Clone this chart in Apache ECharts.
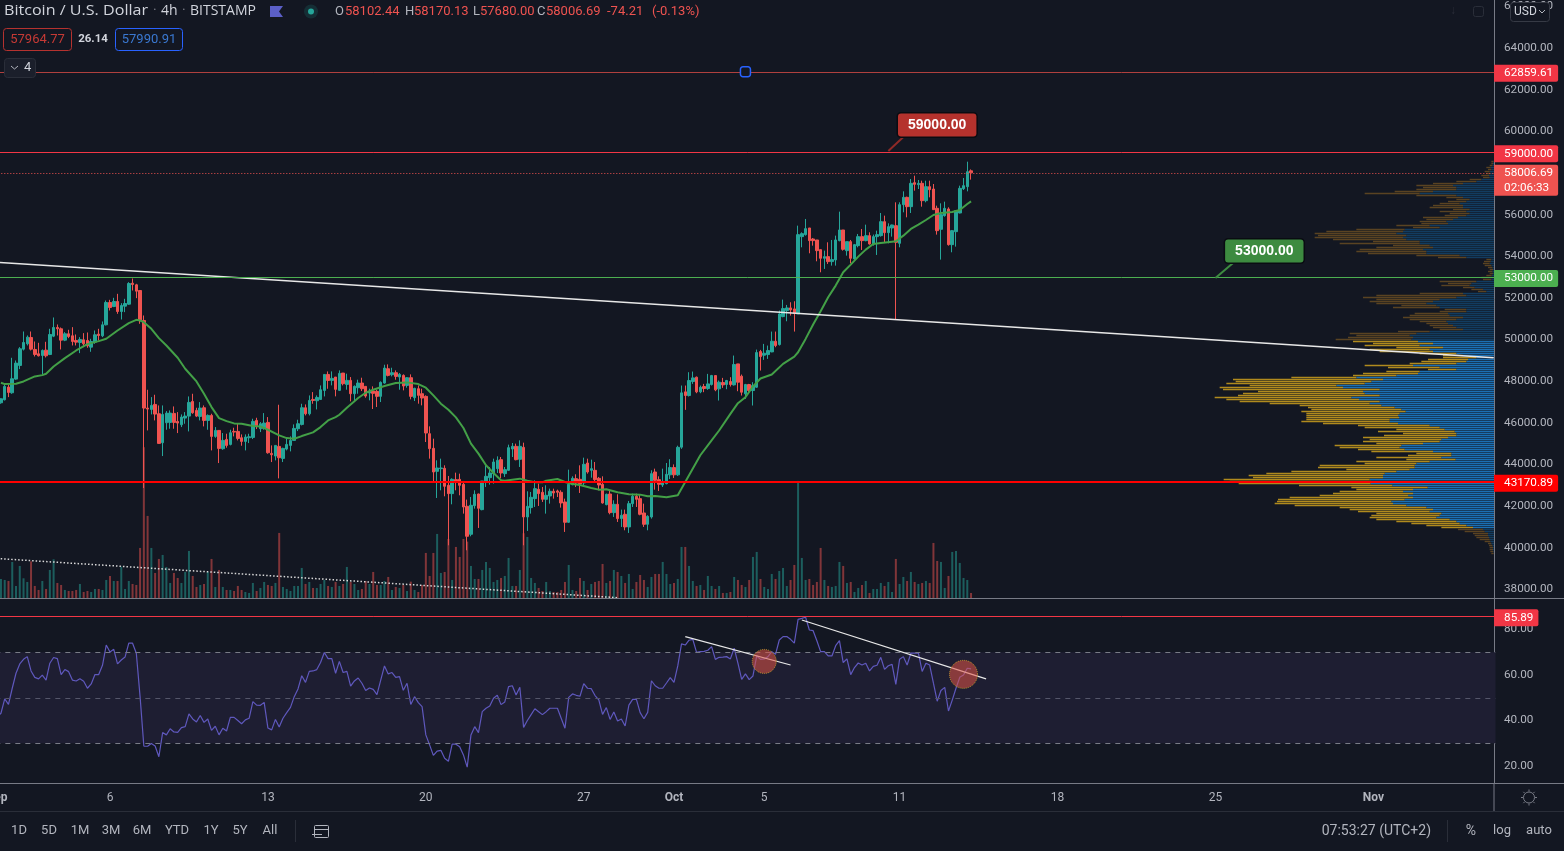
<!DOCTYPE html>
<html><head><meta charset="utf-8"><style>html,body{margin:0;padding:0;background:#131722;overflow:hidden}#c{width:1564px;height:851px}</style>
<script src="https://cdn.jsdelivr.net/npm/echarts@6/dist/echarts.min.js"></script></head><body><div id="c"></div><script>
const tickBars=[0,30,72,114,156,180,204,240,282,324,366];
const tickLabels=['Sep','6','13','20','27','Oct','5','11','18','25','Nov'];
const priceTicks=[38000,40000,42000,44000,46000,48000,50000,52000,54000,56000,60000,62000,64000,66000];
const rsiTicks=[20,40,60,80];
const opens=[46880,46962,47106,47714,47442,48098,48754,49538,49794,50098,
49522,49314,49234,49490,49282,50162,50578,50514,49970,50274,
50178,49954,49858,49986,49954,49634,49874,50258,50178,50706,
51778,51586,51826,51346,51602,51698,52706,52626,52354,50914,
46706,46642,46882,46434,45042,46002,46018,46450,46066,45906,
46226,46322,47026,46594,46306,46722,46114,46354,45346,45634,
44754,45202,44962,45586,45586,45282,45106,45282,45298,46114,
45714,45730,46018,44530,44402,44866,44290,44738,44914,45154,
45714,45922,46722,46434,47122,47058,47122,47554,48322,48037,
48197,47557,48389,47845,48037,47397,47685,47909,47749,47429,
47525,47509,47269,47909,48597,48309,48405,48197,48277,47797,
48165,47205,47637,47397,47269,45477,44773,43669,43797,43813,
42997,42597,43269,43285,43045,41989,40645,42021,42581,41829,
43157,43365,43557,43797,44229,43557,43717,44741,44869,44245,
44821,41477,41925,42357,42805,42661,42325,42485,42709,42725,
42661,42197,41221,43029,43317,43285,43109,44069,43717,43717,
43333,43045,42069,42581,41685,42085,41397,41605,40997,42117,
42469,42357,41669,41125,41477,43637,43269,43013,43077,43500,
43850,43500,44829,47485,47309,47981,48189,47485,47741,47645,
47837,48269,47629,47933,47837,47981,47821,48829,48237,47389,
47837,47549,47709,49421,49245,49277,49405,49917,49757,51101,
51389,51517,51469,51229,54941,55037,55357,54829,54781,54317,
53901,53981,53741,53821,54749,55261,54269,54701,53869,54509,
54941,54749,54989,54589,54941,54989,55661,55133,55357,55469,
54621,56477,56829,56381,57533,57437,57501,56669,57341,57229,
56301,55293,55949,56269,54557,55181,56077,57245,57341,58102.44];
const closes=[46960,47154,47746,47458,48114,48866,49554,49858,50114,49538,
49282,49218,49474,49218,50242,50578,50514,49970,50274,50146,
49906,49874,50002,49794,49698,49906,50226,50194,50706,51778,
51538,51826,51346,51634,51730,52690,52642,52322,50914,46706,
46658,46834,46418,45010,46402,46466,46466,46018,45986,46274,
46322,46978,46482,46322,46706,46114,46354,45346,45634,44770,
45154,44914,45522,45554,45250,45106,45314,45330,46066,45858,
45954,45986,44562,44466,44914,44322,44770,44962,45154,45730,
45954,46722,46434,47074,47074,47218,47586,48322,48034,48133,
47605,48373,47877,48037,47397,47749,47909,47637,47285,47509,
47413,47269,47941,48629,48277,48405,48229,48325,47765,48165,
47269,47653,47317,47189,45509,44757,43637,43829,43829,42949,
42597,43285,43205,42997,41957,40549,42037,42565,41893,43205,
43429,43589,44117,44197,43589,43749,44805,44869,44229,44869,
41477,41989,42421,42837,42597,42325,42517,42709,42629,42661,
42149,41221,43045,43333,43109,43077,44005,43637,43797,43269,
43013,42149,42565,41685,42085,41397,41557,40997,42117,42469,
42325,41605,41125,41509,43557,43237,43045,43157,43525,43850,
43500,44820,47437,47309,48029,48157,47485,47709,47645,47869,
48269,47581,47949,47821,48029,47837,48797,47949,47469,47837,
47549,47789,49373,49181,49341,49469,49917,49709,51229,51485,
51517,51421,51261,55037,55085,55325,54749,54749,54269,53901,
53981,53741,53837,54781,55261,54333,54701,53901,54557,54941,
54749,54989,54589,54941,55037,55661,55133,55421,55501,54669,
56477,56829,56381,57501,57453,57501,56669,57341,57197,56237,
55229,55997,56301,54557,55229,56189,57261,57389,58061,58006.69];
const lows=[46800,46914,47074,47234,47394,48066,48578,49474,49714,49474,
49186,49186,48322,49138,49250,50114,50194,49522,49922,50066,
49714,49714,49346,49634,49602,49410,49794,49954,50114,50674,
51394,51554,51234,50962,51314,51666,52354,51986,50754,42866,
45634,46402,46114,44994,44402,45666,45714,45714,45506,45794,
45954,45586,46434,46274,46114,45826,45666,44674,45282,44066,
44706,44802,44914,45346,45154,44898,44674,45026,45218,45698,
45554,45666,44514,44114,44194,43330,44114,44674,44626,45154,
45602,45874,46354,46354,46914,46642,47106,47266,47634,47797,
47269,47525,47797,47589,47029,46997,47397,47525,47205,47077,
46661,46757,46997,47877,48229,48229,48069,47589,47557,47685,
47125,47045,46917,46837,45077,44277,43157,42389,42757,42469,
40117,42085,42757,42517,41637,39877,40549,41877,40949,41797,
42917,43029,43077,43589,43349,43397,43685,44357,44197,43877,
40117,40805,41637,41957,42005,42197,41637,42117,42357,42437,
41925,40757,41189,42997,42917,42629,42917,43557,43365,43205,
42757,42117,42037,41605,41477,41237,40997,40837,40709,41957,
41957,41557,40997,40837,41397,42789,42725,42917,43045,43300,
43350,43450,44749,46621,47261,47869,47421,47421,47469,47581,
47789,47517,47069,47677,47613,47741,47789,47517,47309,47149,
47389,46829,47677,48509,49021,49069,49389,49629,49709,51069,
50877,51149,50381,51229,54429,54989,54141,54509,53757,53229,
53389,53629,53549,53549,54717,54269,54029,53661,53789,54429,
54301,54717,54557,54509,54061,54941,54669,54621,54941,50957,
54429,56109,55869,56077,57149,57229,56381,56589,56829,56221,
55037,53837,55901,54509,54189,54461,56061,57181,57117,57680];
const highs=[47100,47170,47874,47826,49122,48994,49634,50386,50194,50386,
49906,49842,49522,49890,50514,51058,50722,50578,50354,50466,
50594,50242,50114,50306,50338,50034,50434,50514,50866,51874,
51906,52002,52194,51746,51954,52754,52930,52674,52354,51154,
47586,47234,47346,46834,46834,46562,46594,46786,46514,46402,
46514,47266,47394,46722,46994,46834,46402,46434,45794,45634,
45506,45474,45666,45762,45954,45442,45442,45474,46194,46242,
46034,46466,46274,44914,44914,46866,44802,45234,45346,45922,
46146,46914,46882,47314,47474,47314,47794,48322,48466,48469,
48197,48517,48389,48357,48197,47797,48069,48165,47749,47637,
47749,47589,47989,48789,48805,48645,48517,48389,48325,48197,
48325,47685,47797,47637,47317,45829,45237,44197,44277,43957,
43445,43333,43605,43557,43205,42309,42437,42757,42597,43205,
43957,43877,44277,44389,44357,43877,44949,45029,44997,45157,
45045,42709,42677,43237,43077,42917,42997,42837,42837,42789,
42757,42357,43749,43429,43525,43957,44325,44277,44229,44117,
43397,43429,42597,42757,42277,42565,41829,41829,42245,42597,
42597,42565,42117,41557,43717,43797,43429,43797,44069,44250,
44000,44900,47789,47789,48429,48461,48221,47789,47869,48349,
48301,48269,48029,48157,48061,48189,49229,48829,48317,47869,
47869,47949,49517,49501,49789,49709,50381,50381,51389,51917,
51661,51789,51837,55469,55149,55789,55357,54877,54781,54317,
54269,54669,54781,54989,56141,55261,54701,54781,54589,55069,
55309,55517,55149,55037,55229,56077,55949,55581,55517,56589,
56589,57117,56861,57709,57869,57661,57629,57629,57629,57469,
56429,56541,56621,56349,55261,56221,57389,57757,58541,58170.13];
const volumes=[50,58,55,52,109,37,97,60,49,111,
37,25,52,28,85,117,46,40,25,22,
22,25,43,19,22,19,28,28,25,55,
67,52,52,95,28,52,43,40,151,453,
247,151,76,118,130,94,46,76,61,46,
79,142,67,34,40,43,79,118,34,85,
34,25,25,22,37,25,19,16,46,22,
31,49,40,37,46,196,34,28,22,37,
37,91,43,49,31,31,43,55,37,34,
49,37,43,94,49,43,25,28,52,43,
79,40,40,52,64,25,34,31,40,22,
50,25,19,40,136,67,136,193,76,79,
178,55,154,124,178,170,97,58,58,85,
109,91,49,55,61,67,121,37,37,85,
195,184,61,46,31,22,49,22,19,19,
25,49,100,25,22,61,52,25,43,49,
52,103,46,52,85,79,67,46,73,28,
49,70,55,34,64,73,73,109,73,43,
46,58,154,154,97,52,37,40,25,67,
37,28,37,16,16,19,64,55,40,34,
55,124,139,58,34,28,73,58,82,91,
37,55,100,352,121,55,58,40,49,151,
55,37,34,37,109,97,46,49,19,31,
40,52,16,28,28,46,37,49,19,118,
43,64,52,79,49,43,46,52,46,166,
112,109,31,67,139,142,106,61,55,16];
const rsiValues=[41.7,43.2,49.5,47.1,54.2,60.8,64.9,66.9,68.1,61.8,
59.0,58.3,60.0,57.8,65.2,67.7,67.2,60.2,62.4,61.5,
57.8,57.4,58.4,57.3,54.2,56.1,60.2,60.2,64.3,73.2,
70.1,71.3,64.9,66.6,67.9,74.0,74.0,69.6,50.5,28.8,
28.7,29.9,28.8,24.1,34.7,33.7,36.4,35.0,34.8,36.9,
37.3,42.9,40.7,39.4,42.2,39.2,40.7,35.7,37.5,33.7,
36.6,35.4,41.4,41.4,40.0,38.6,40.3,41.0,48.3,46.8,
46.7,48.0,36.7,35.9,40.5,37.2,41.0,43.5,45.8,50.5,
53.9,59.7,56.8,61.6,61.8,62.4,65.5,69.9,67.2,67.2,
60.8,66.0,61.1,61.6,55.1,57.4,58.7,56.4,53.2,54.3,
53.7,51.4,57.8,64.0,60.5,61.1,59.0,59.3,53.3,56.4,
47.1,50.5,47.9,46.1,33.7,29.3,24.7,26.6,26.9,23.4,
22.1,29.6,29.6,28.5,24.9,19.5,33.7,37.3,34.7,43.9,
45.4,46.4,49.8,51.1,47.0,48.2,54.9,55.3,51.2,54.6,
37.0,40.0,42.6,45.2,43.9,42.6,43.9,45.4,45.4,45.4,
41.0,36.6,50.2,51.7,51.1,50.7,56.2,54.2,54.0,51.0,
49.1,42.7,45.7,40.5,43.8,39.8,40.7,37.6,46.8,49.3,
49.3,43.5,40.8,43.6,57.5,55.3,54.2,54.2,56.5,58.9,
56.8,64.0,73.7,73.2,75.3,75.7,70.0,70.3,70.4,70.9,
72.5,66.9,67.8,67.9,68.1,67.1,71.8,65.2,58.1,60.5,
58.0,59.6,68.4,66.9,67.1,68.1,70.3,69.1,75.4,76.9,
76.9,75.7,74.0,84.5,84.9,85.4,79.8,79.5,75.1,70.3,
70.3,68.4,68.4,72.9,75.1,65.5,67.1,60.2,63.3,65.3,
64.4,65.2,61.8,63.8,64.3,67.8,62.5,64.1,64.7,55.9,
66.9,68.1,64.4,69.6,69.7,69.6,61.6,65.2,64.4,56.4,
48.5,53.2,54.6,44.2,49.0,54.2,59.0,60.0,63.0,62.7];
const maBars=[1,2,5,7,10,12,13,15,18,21,24,27,29,32,35,37,38,39,41,43,45,48,50,53,55,57,59,61,63,65,68,70,72,75,77,79,81,84,86,88,90,91,93,96,98,100,103,106,109,112,114,116,118,120,122,124,126,128,130,132,134,135,137,139,141,143,145,146,149,151,153,155,158,160,162,165,168,171,173,175,178,181,184,187,190,192,195,197,199,201,203,206,209,212,213,215,217,219,221,223,225,227,229,231,233,235,238,239,241,243,245,247,249,251,254,256,258,259];
const maValues=[47922,47858,47874,47986,48226,48290,48354,48706,49106,49474,49778,49922,50034,50434,50786,50946,50914,50834,50514,50066,49714,49122,48594,47986,47394,46754,46226,46082,45970,45954,45842,45826,45666,45394,45266,45234,45362,45538,45794,46114,46274,46386,46725,47189,47445,47589,47765,47909,47941,47861,47685,47317,46917,46629,46261,45749,45000,44517,43957,43589,43237,43221,43269,43317,43221,43141,43141,43221,43301,43157,43061,43013,42869,42789,42805,42661,42565,42549,42469,42485,42421,42523,43482,44441,45160,45629,46429,46941,47229,47741,48125,48317,48829,49181,49389,50029,50717,51357,52029,52589,53229,53597,53981,54317,54589,54637,54701,54717,54989,55309,55517,55741,55981,56077,56125,56221,56509,56637];
const profileUp=[2,3,5,10,8,13,11,15,13,38,53,93,123,113,113,183,223,113,93,73,83,103,93,93,73,83,73,83,108,123,143,138,193,163,268,273,293,263,273,263,223,223,193,183,213,203,203,103,83,8,10,13,8,5,3,5,3,7,13,8,53,68,73,58,33,23,93,83,113,163,183,203,173,163,83,83,138,133,93,113,143,138,123,113,93,193,233,253,243,248,
228,183,223,153,193,183,113,93,53,78,83,113,243,163,113,223,228,293,413,333,368,388,473,453,343,393,388,343,428,405,343,373,338,298,278,265,283,288,285,313,313,288,193,163,148,118,113,113,138,158,163,213,278,283,268,183,128,128,158,115,193,233,238,238,253,293,328,333,333,373,368,370,305,199,243,273,243,258,243,268,308,303,263,203,183,193,158,163,173,133,113,103,83,63,33,28,18,18,15,13,11,8,5,3,3,2,1];
const profileDown=[6,5,8,13,10,15,12,23,20,35,60,90,110,100,120,115,165,120,50,40,55,60,90,100,50,80,60,65,105,80,80,80,100,80,145,230,245,265,265,220,140,240,110,170,190,210,175,130,85,15,20,20,20,13,10,13,10,16,25,25,110,70,85,35,35,25,130,270,280,190,190,150,105,140,65,80,100,120,180,140,80,65,70,70,70,95,200,160,195,227,
195,180,165,140,180,160,110,60,100,120,135,140,145,155,85,100,165,130,195,450,407,415,260,370,470,315,365,425,410,398,420,300,245,260,270,313,280,275,278,250,265,225,215,225,145,230,160,217,255,215,230,140,200,180,140,185,105,130,195,148,220,155,285,290,190,315,355,403,390,438,425,396,280,229,170,190,240,265,370,380,343,355,335,260,250,215,195,205,200,220,180,145,120,95,75,60,45,40,38,30,17,10,10,10,10,9,7];
const rsiTrendA=[[183,76.9],[211,64.4]];
const rsiTrendB=[[214,84.2],[263,58.3]];
const rsiCircles=[[204,66.0,24],[257,60.3,28]];

const BG='#131722',UP='#26a69a',DN='#ef5350',AX='#b2b5be',LN='#787b86';
const FF='Roboto, sans-serif',FH='"Open Sans", sans-serif';
const N=399,P=3.76,GL=-4.68;
const months=['Sep','Oct','Nov'],mDays=[30,31,30];
const categories=[];
for(let k=0;k<N;k++){let d=Math.floor(k/6),m=0;while(d>=mDays[m%3]){d-=mDays[m%3];m++}
 categories.push(months[m%3]+' '+(d+1)+' '+String(k%6*4).padStart(2,'0')+':00')}
const profileLevels=profileUp.map((_,i)=>String(Math.round(58000-(i-3)*96)));
const tickMap={};tickBars.forEach((b,i)=>tickMap[b]=tickLabels[i]);
const candleData=opens.map((o,i)=>[o,closes[i],lows[i],highs[i]]);
const volData=volumes.map((v,i)=>({value:v,itemStyle:{color:closes[i]>=opens[i]?'rgba(38,166,154,.5)':'rgba(239,83,80,.5)'}}));
const maData=maBars.map((b,i)=>[b,maValues[i]]);
function bright(i){return i>=90&&i<=183}
const vpUp=profileUp.map((v,i)=>({value:v,itemStyle:{color:bright(i)?'#1a6fb3':'#123c60',opacity:1}}));
const vpDown=profileDown.map((v,i)=>({value:v,itemStyle:{color:bright(i)?'#b08a1e':'#5a4322',opacity:1}}));

function tag(color,text,extra){return Object.assign({show:true,position:'end',distance:0,offset:[-1.5,1.5],formatter:text,backgroundColor:color,color:'#fff',fontFamily:FF,fontSize:11.7,padding:[3,5,2,10],borderRadius:[0,2,2,0]},extra||{})}
function hline(v,color,width,text,type,extra){return {yAxis:v,lineStyle:{color:color,width:width,type:type||'solid'},label:text?tag(extra&&extra.bg||color,text,extra&&extra.label):{show:false}}}
const hidden={show:false};
const T=(x,y,text,fill,font,align,extra)=>Object.assign({type:'text',x:x,y:y,z:100,silent:true,style:{text:text,fill:fill,font:font||('13px '+FF),align:align||'left',verticalAlign:'middle'}},extra||{});
const R=(x,y,w,h,fill,stroke,r)=>({type:'rect',z:99,silent:true,shape:{x:x,y:y,width:w,height:h,r:r||0},style:{fill:fill||'none',stroke:stroke||'none',lineWidth:1}});
const L=(x1,y1,x2,y2,c,z)=>({type:'line',z:z||98,silent:true,shape:{x1:x1,y1:y1,x2:x2,y2:y2},style:{stroke:c,lineWidth:1}});
const gear=[];for(let a=0;a<8;a++){const t=a*Math.PI/4;gear.push(L(1529+Math.cos(t)*6,797.5+Math.sin(t)*6,1529+Math.cos(t)*8,797.5+Math.sin(t)*8,'#787b86'))}
const graphics=[
 T(4,11.5,'Bitcoin / U.S. Dollar','#d1d4dc','14px '+FH,'left',{scaleX:1.15}),T(153,11.5,'·','#787b86','14px '+FF),T(161,11.5,'4h','#d1d4dc','14px '+FH),T(182,11.5,'·','#787b86','14px '+FF),T(190,11.5,'BITSTAMP','#d1d4dc','14px '+FH),
 {type:'polygon',z:100,silent:true,shape:{points:[[270,6],[283,6],[279,11.5],[283,17],[270,17]]},style:{fill:'#5b5fc7'}},
 {type:'circle',z:100,silent:true,shape:{cx:311,cy:11.5,r:7},style:{fill:'rgba(38,166,154,.16)'}},
 {type:'circle',z:100,silent:true,shape:{cx:311,cy:11.5,r:3},style:{fill:'#26a69a'}},
 T(335,12,'O','#b2b5be'),T(345,12,'58102.44',DN),T(405,12,'H','#b2b5be'),T(414,12,'58170.13',DN),T(473,12,'L','#b2b5be'),T(480,12,'57680.00',DN),T(537,12,'C','#b2b5be'),T(546,12,'58006.69',DN),T(607,12,'-74.21',DN),T(652,12,'(-0.13%)',DN),
 R(3.5,28.5,68,22,BG,'#b5322f',3),T(37.5,39.5,'57964.77','#c63a35','13px '+FF,'center'),
 T(93,39.5,'26.14','#d1d4dc','bold 11.5px '+FF,'center'),
 R(115.5,28.5,67,22,BG,'#2962ff',3),T(149,39.5,'57990.91','#3a78d0','13px '+FF,'center'),
 R(4.5,58.5,31,19,'#1b1f2b','#2a2e39',3),
 {type:'polyline',z:100,silent:true,shape:{points:[[11,66],[14.5,69],[18,66]]},style:{stroke:'#b2b5be',fill:'none',lineWidth:1}},
 T(24,68,'4','#d1d4dc','13px '+FF),
 R(1510.5,2.5,39,19,BG,'#363a45',3),T(1514,12,'USD','#d1d4dc','12px '+FF),
 {type:'polyline',z:100,silent:true,shape:{points:[[1539,10],[1542,13],[1545,10]]},style:{stroke:'#b2b5be',fill:'none',lineWidth:1}},
 T(1453,11,'↓','#2a2e39','12px '+FF,'center'),R(1473.5,6.5,10,10,'none','#2a2e39',2),
 L(1494,783,1494,811,LN),L(0,598.5,1564,598.5,LN),L(0,783.5,1564,783.5,LN),L(0,811.5,1564,811.5,'#2a2e39'),
 {type:'circle',z:100,silent:true,shape:{cx:1529,cy:797.5,r:5.5},style:{fill:'none',stroke:'#787b86',lineWidth:1}},
 ...gear,
 ...[['1D',19],['5D',49],['1M',80],['3M',111],['6M',142],['YTD',177],['1Y',211],['5Y',240],['All',270]].map(a=>T(a[1],831,a[0],'#b2b5be','13px '+FF,'center')),
 L(295.5,820,295.5,842,'#2a2e39'),
 R(314.5,825.5,14,12,'none','#b2b5be',1),L(314.5,829.5,328.5,829.5,'#b2b5be'),L(312,834.5,322,834.5,'#b2b5be',101),
 T(1431,831,'07:53:27 (UTC+2)','#b2b5be','14px '+FF,'right'),L(1447.5,820,1447.5,842,'#2a2e39'),
 T(1471,831,'%','#b2b5be','14px '+FF,'center'),T(1502,831,'log','#b2b5be','13px '+FF,'center'),T(1539,831,'auto','#b2b5be','13px '+FF,'center')
];
const xBase={type:'category',data:categories,boundaryGap:true,axisTick:hidden,splitLine:hidden,axisPointer:hidden};
const callLabel=(txt,bg)=>({show:true,position:'inside',formatter:txt,color:'#fff',fontFamily:'Liberation Sans',fontWeight:'bold',fontSize:14,backgroundColor:bg,borderColor:'#0a0c12',borderWidth:1.5,borderRadius:3,padding:[5,10,4,10],opacity:1});
const option={
 backgroundColor:BG,animation:false,tooltip:hidden,legend:hidden,
 grid:[
  {left:GL,top:0,width:N*P,height:598.3,outerBoundsMode:'none',containLabel:false},
  {left:GL,top:599,width:N*P,height:184,outerBoundsMode:'none',containLabel:false},
  {left:1194,top:160.5,width:300,height:394,outerBoundsMode:'none',containLabel:false}
 ],
 xAxis:[
  Object.assign({},xBase,{gridIndex:0,axisLine:hidden,axisLabel:hidden}),
  Object.assign({},xBase,{gridIndex:1,axisLine:hidden,axisLabel:{show:true,interval:(i)=>tickMap[i]!==undefined,hideOverlap:false,showMinLabel:true,margin:9,color:AX,fontFamily:FF,fontSize:12,
    formatter:(v,i)=>{const s=tickMap[i];return s?(/[a-z]/.test(s)?'{b|'+s+'}':s):''},rich:{b:{fontWeight:'bold',color:AX,fontFamily:FF,fontSize:12}}}}),
  {type:'value',gridIndex:2,min:0,max:900,inverse:true,show:false}
 ],
 yAxis:[
  {type:'value',gridIndex:0,position:'right',offset:-1.56,min:37570,max:66307,axisLine:{show:true,lineStyle:{color:LN}},axisTick:hidden,splitLine:hidden,
   axisLabel:{show:true,customValues:priceTicks,margin:10,padding:[2,0,0,0],color:AX,fontFamily:FF,fontSize:11.7,formatter:v=>v.toFixed(2)}},
  {type:'value',gridIndex:0,min:0,max:1794,show:false},
  {type:'value',gridIndex:1,position:'right',offset:-1.56,min:12.55,max:93.43,axisLine:{show:true,lineStyle:{color:LN}},axisTick:hidden,splitLine:hidden,
   axisLabel:{show:true,customValues:rsiTicks,margin:10,padding:[2,0,0,0],color:AX,fontFamily:FF,fontSize:11.7,formatter:v=>v.toFixed(2)}},
  {type:'category',gridIndex:2,inverse:true,data:profileLevels,show:false}
 ],
 series:[
  {name:'Up volume profile',type:'bar',xAxisIndex:2,yAxisIndex:3,stack:'vp',barWidth:1.4,z:1,silent:true,data:vpUp},
  {name:'Down volume profile',type:'bar',xAxisIndex:2,yAxisIndex:3,stack:'vp',barWidth:1.4,z:1,silent:true,data:vpDown},
  {name:'Volume',type:'bar',xAxisIndex:0,yAxisIndex:1,barWidth:2,z:2,silent:true,data:volData},
  {name:'BTCUSD',type:'candlestick',xAxisIndex:0,yAxisIndex:0,barWidth:3,z:3,silent:true,data:candleData,
   itemStyle:{color:UP,color0:DN,borderColor:UP,borderColor0:DN,borderWidth:1},
   markLine:{silent:true,symbol:['none','none'],animation:false,z:6,data:[
    hline(62859.61,'#b0403e',1,'62859.61',null,{bg:'#f23645'}),
    hline(59000,'#f23645',1,'59000.00',null,{bg:'#f23645'}),
    hline(58006.69,DN,1,'58006.69\n02:06:33',[1,2],{bg:DN,label:{lineHeight:15,offset:[-1.5,7.5],fontSize:11.7,padding:[1,5,0,10]}}),
    hline(53000,'#4caf50',1,'53000.00',null,{bg:'#4caf50'}),
    hline(43170.89,'#ff0000',2,'43170.89',null,{bg:'#ff0000'})
   ]}},
  {name:'MA',type:'line',xAxisIndex:0,yAxisIndex:0,z:4,silent:true,showSymbol:false,smooth:false,data:maData,lineStyle:{color:'#43a047',width:2}},
  {name:'Trend',type:'line',xAxisIndex:0,yAxisIndex:0,z:5,silent:true,showSymbol:false,data:[[0,53708],[398,49126]],lineStyle:{color:'#e8e8e8',width:1.5}},
  {name:'Trend dotted',type:'line',xAxisIndex:0,yAxisIndex:0,z:5,silent:true,showSymbol:false,data:[[0,39482],[165,37599]],lineStyle:{color:'#d8d8d8',width:1.5,type:[1.5,2]}},
  {name:'Pointer red',type:'line',xAxisIndex:0,yAxisIndex:0,z:7,silent:true,showSymbol:false,data:[[237,59054],[241,59727]],lineStyle:{color:'#8f2a27',width:2}},
  {name:'Pointer green',type:'line',xAxisIndex:0,yAxisIndex:0,z:7,silent:true,showSymbol:false,data:[[324,52954],[329,53723]],lineStyle:{color:'#3d8b40',width:2}},
  {name:'Callouts',type:'scatter',xAxisIndex:0,yAxisIndex:0,z:8,silent:true,symbolSize:0,itemStyle:{opacity:1},data:[
    {value:[250,60303],label:callLabel('59000.00','#b5322d')},
    {value:[337,54251],label:callLabel('53000.00','#3d8b40')}
  ]},
  {name:'Line handle',type:'scatter',xAxisIndex:0,yAxisIndex:0,z:8,silent:true,symbol:'roundRect',symbolSize:10,data:[[199,62859.61]],itemStyle:{color:BG,borderColor:'#2962ff',borderWidth:1.5,opacity:1}},
  {name:'RSI',type:'line',xAxisIndex:1,yAxisIndex:2,z:4,silent:true,showSymbol:false,data:rsiValues,lineStyle:{color:'#5f58bd',width:1.2},
   markArea:{silent:true,z:1,itemStyle:{color:'#1e1e32',opacity:1},data:[[{yAxis:30},{yAxis:70}]]},
   markLine:{silent:true,symbol:['none','none'],animation:false,data:[
    {yAxis:70,lineStyle:{color:'#787b86',width:1,type:[5,5]},label:hidden},
    {yAxis:50,lineStyle:{color:'#55566a',width:1,type:[5,5]},label:hidden},
    {yAxis:30,lineStyle:{color:'#787b86',width:1,type:[5,5]},label:hidden},
    hline(85.89,'#f23645',1,'85.89',null,{bg:'#f23645'})
   ]}},
  {name:'RSI trend A',type:'line',xAxisIndex:1,yAxisIndex:2,z:5,silent:true,showSymbol:false,data:rsiTrendA,lineStyle:{color:'#e8e8e8',width:1.2}},
  {name:'RSI trend B',type:'line',xAxisIndex:1,yAxisIndex:2,z:5,silent:true,showSymbol:false,data:rsiTrendB,lineStyle:{color:'#e8e8e8',width:1.2}},
  {name:'RSI circles',type:'scatter',xAxisIndex:1,yAxisIndex:2,z:6,silent:true,symbolSize:d=>d[2],data:rsiCircles,itemStyle:{color:'rgba(226,84,70,.55)',borderColor:'#b8962e',borderWidth:1,borderType:'dotted',opacity:1}}
 ],
 graphic:{elements:graphics}
};
const chart=echarts.init(document.getElementById('c'),null,{renderer:'canvas',width:1564,height:851});
chart.setOption(option);
</script></body></html>
